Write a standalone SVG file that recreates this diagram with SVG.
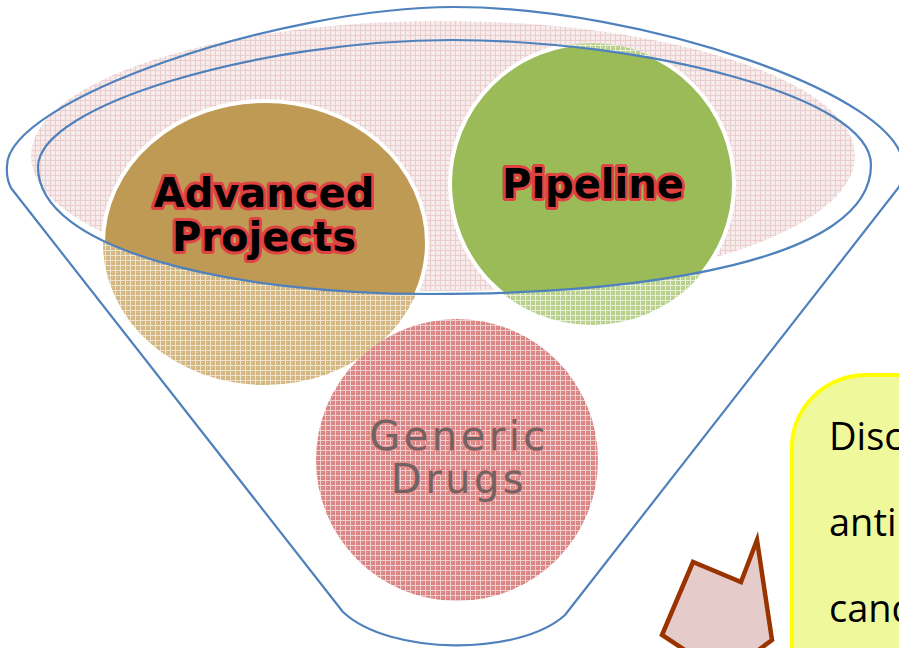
<svg xmlns="http://www.w3.org/2000/svg" width="899" height="648" viewBox="0 0 899 648">
  <defs>
    <style>
      .hl { stroke: #ffffff; stroke-width: 4; }
      .rim { fill: none; stroke: #4F81BD; stroke-width: 2.2; stroke-linejoin: round; }
      .bold { font-family: "DejaVu Sans", Verdana, sans-serif; font-weight: bold; font-size: 40px; fill: #000; stroke: #E04141; stroke-width: 6; paint-order: stroke; stroke-linejoin: round; text-anchor: middle; }
      .gen { font-family: "DejaVu Sans", Verdana, sans-serif; font-size: 40px; letter-spacing: 3.5px; fill: #5a5a5a; fill-opacity: 0.85; stroke: #EE8C8C; stroke-width: 2; paint-order: stroke; text-anchor: middle; }
      .call { font-family: "Open Sans", "Noto Sans", sans-serif; font-size: 38px; fill: #000; }
    </style>
    <pattern id="pPink" width="5" height="5" patternUnits="userSpaceOnUse">
      <rect width="5" height="5" fill="#F7EAEA"/>
      <rect width="5" height="1" fill="#EACDCD"/>
      <rect width="1" height="5" fill="#EACDCD"/>
      <rect x="2" y="2" width="1" height="1" fill="#FCF6F6"/>
    </pattern>
    <pattern id="pTan" width="5" height="5" patternUnits="userSpaceOnUse">
      <rect width="5" height="5" fill="#D3B67F"/>
      <rect width="5" height="1" fill="#EFE3CC"/>
      <rect width="1" height="5" fill="#EFE3CC"/>
      <rect x="2" y="2" width="1" height="1" fill="#E2CCA2"/>
    </pattern>
    <pattern id="pGreen" width="5" height="5" patternUnits="userSpaceOnUse">
      <rect width="5" height="5" fill="#B8CF8A"/>
      <rect width="5" height="1" fill="#E8F0D8"/>
      <rect width="1" height="5" fill="#E8F0D8"/>
      <rect x="2" y="2" width="1" height="1" fill="#CEDEAE"/>
    </pattern>
    <pattern id="pRed" width="5" height="5" patternUnits="userSpaceOnUse">
      <rect width="5" height="5" fill="#D98483"/>
      <rect width="5" height="1" fill="#F0CFCF"/>
      <rect width="1" height="5" fill="#F0CFCF"/>
      <rect x="2" y="2" width="1" height="1" fill="#E5A5A4"/>
    </pattern>
    <clipPath id="innerClip">
      <path d="M 38,167 C 38,105 260,40 452,40 C 640,40 871,95 871,165 C 871,260 650,294 430,294 C 230,294 38,250 38,167 Z"/>
    </clipPath>
  </defs>

  <g id="funnel-fill">
    <ellipse cx="443" cy="156" rx="412" ry="135" fill="url(#pPink)"/>
  </g>

  <g id="node-advanced">
    <ellipse cx="265" cy="243" rx="162" ry="142" fill="url(#pTan)"/>
    <g clip-path="url(#innerClip)">
      <ellipse cx="265" cy="243" rx="162" ry="142" fill="#BE9A54" class="hl"/>
    </g>
    <text class="bold" x="264" y="207">Advanced</text>
    <text class="bold" x="264" y="251">Projects</text>
  </g>

  <g id="node-pipeline">
    <ellipse cx="592" cy="184" rx="142" ry="141" fill="url(#pGreen)"/>
    <g clip-path="url(#innerClip)">
      <ellipse cx="592" cy="184" rx="142" ry="141" fill="#9BBB59" class="hl"/>
    </g>
    <text class="bold" x="593" y="198">Pipeline</text>
  </g>

  <g id="node-generic">
    <ellipse cx="457" cy="460" rx="141" ry="141" fill="url(#pRed)"/>
    <text class="gen" x="459" y="450">Generic</text>
    <text class="gen" x="459" y="493">Drugs</text>
  </g>

  <g id="funnel">
    <path class="rim" d="M 343,612 L 11,188 Q 6,178 7,166 C 7,100 280,7 454,7 C 640,7 903,95 903,166 Q 903,178 899,187 L 565,615 C 520,656 390,656 343,612 Z"/>
    <path class="rim" d="M 38,167 C 38,105 260,40 452,40 C 640,40 871,95 871,165 C 871,260 650,294 430,294 C 230,294 38,250 38,167 Z"/>
  </g>

  <g id="callout">
    <rect x="792" y="375" width="220" height="340" rx="75" ry="72" fill="#F0F89C" stroke="#FFFF00" stroke-width="4"/>
    <text class="call" x="829" y="450">Disc</text>
    <text class="call" x="829" y="536">anti</text>
    <text class="call" x="829" y="622">cand</text>
  </g>

  <g id="connectors">
    <polygon points="757,540 772,640 745,660 700,660 662,635 693,562 741,582" fill="#E6CBCB" stroke="#993300" stroke-width="4.5" stroke-linejoin="miter"/>
  </g>
</svg>
